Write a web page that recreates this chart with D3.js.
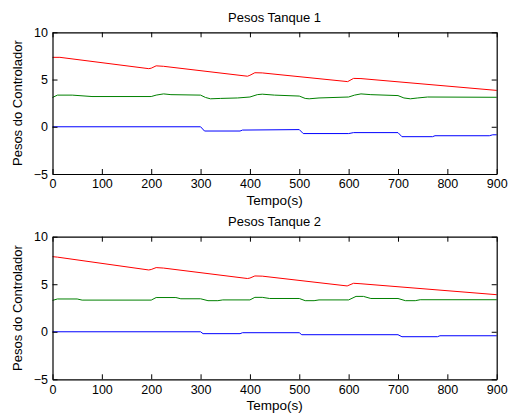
<!DOCTYPE html>
<html>
<head>
<meta charset="utf-8">
<script src="https://cdn.jsdelivr.net/npm/d3@7"></script>
<style>
  body { margin: 0; background: #fff; }
  text { font-family: Arial, "Liberation Sans", sans-serif; fill: #000; }
</style>
</head>
<body>
<svg id="chart" width="509" height="415"></svg>
<script>
// tick labels
const xTicks = [0, 100, 200, 300, 400, 500, 600, 700, 800, 900]
const yTicks = [-5, 0, 5, 10]
const titles = ["Pesos Tanque 1", "Pesos Tanque 2"]

// series: [tempo, peso]
const tank1Red = [[0, 7.35], [15, 7.35], [195, 6.15], [200, 6.2], [210, 6.45], [225, 6.4], [395, 5.35], [400, 5.45], [410, 5.72], [425, 5.7], [598, 4.78], [610, 5.12], [625, 5.1], [900, 3.85]]
const tank1Green = [[0, 3.1], [10, 3.35], [40, 3.35], [80, 3.2], [200, 3.2], [210, 3.35], [225, 3.48], [240, 3.4], [300, 3.35], [310, 3.1], [320, 2.96], [340, 3.0], [375, 3.05], [400, 3.15], [415, 3.4], [425, 3.45], [450, 3.35], [500, 3.25], [512, 3.0], [520, 2.96], [540, 3.05], [600, 3.15], [612, 3.35], [625, 3.48], [645, 3.4], [700, 3.3], [712, 3.05], [725, 2.96], [740, 3.05], [760, 3.15], [900, 3.12]]
const tank1Blue = [[0, 0], [300, 0], [308, -0.45], [380, -0.45], [385, -0.35], [500, -0.3], [508, -0.72], [600, -0.72], [610, -0.62], [700, -0.62], [708, -1.05], [770, -1.05], [775, -0.95], [885, -0.95], [892, -0.85], [900, -0.85]]

const tank2Red = [[0, 7.9], [10, 7.85], [195, 6.5], [200, 6.55], [210, 6.75], [225, 6.7], [395, 5.6], [400, 5.65], [410, 5.87], [425, 5.85], [597, 4.82], [610, 5.1], [625, 5.05], [900, 3.9]]
const tank2Green = [[0, 3.3], [10, 3.45], [50, 3.45], [60, 3.33], [200, 3.33], [210, 3.6], [250, 3.6], [260, 3.47], [300, 3.47], [315, 3.27], [335, 3.27], [345, 3.35], [400, 3.35], [410, 3.62], [425, 3.62], [440, 3.5], [500, 3.5], [512, 3.27], [530, 3.27], [540, 3.35], [600, 3.35], [615, 3.72], [630, 3.72], [645, 3.5], [700, 3.5], [715, 3.27], [735, 3.27], [745, 3.37], [900, 3.37]]
const tank2Blue = [[0, 0], [300, 0], [305, -0.2], [380, -0.2], [385, -0.1], [500, -0.1], [505, -0.31], [700, -0.31], [708, -0.52], [780, -0.52], [785, -0.42], [900, -0.42]]

const panels = [
  { title: titles[0], top: 32.3, bottom: 174, series: [tank1Red, tank1Green, tank1Blue] },
  { title: titles[1], top: 236.7, bottom: 379.3, series: [tank2Red, tank2Green, tank2Blue] }
]
const colors = ["#ff0000", "#008000", "#0000ff"]
const left = 52.5, right = 496.7

const svg = d3.select("#chart")

panels.forEach(p => {
  let x = d3.scaleLinear().domain([0, 900]).range([left, right])
  let y = d3.scaleLinear().domain([-5, 10]).range([p.bottom, p.top])
  let g = svg.append("g")

  // lines first, axes on top
  let line = d3.line().x(d => x(d[0])).y(d => y(d[1]))
  p.series.forEach((s, i) => {
    g.append("path")
      .datum(s)
      .attr("d", line)
      .attr("fill", "none")
      .attr("stroke", colors[i])
      .attr("stroke-width", 1)
  })

  // bottom axis, ticks pointing inward
  let bottom = g.append("g")
    .attr("transform", `translate(0,${p.bottom})`)
    .call(d3.axisBottom(x).tickValues(xTicks).tickSizeInner(-5).tickSizeOuter(0).tickPadding(9))
  // top axis, no labels
  g.append("g")
    .attr("transform", `translate(0,${p.top})`)
    .call(d3.axisTop(x).tickValues(xTicks).tickSizeInner(-5).tickSizeOuter(0).tickFormat(""))
  // left axis
  let leftAx = g.append("g")
    .attr("transform", `translate(${left},0)`)
    .call(d3.axisLeft(y).tickValues(yTicks).tickSizeInner(-5).tickSizeOuter(0).tickPadding(9))
  // right axis, no labels
  g.append("g")
    .attr("transform", `translate(${right},0)`)
    .call(d3.axisRight(y).tickValues(yTicks).tickSizeInner(-5).tickSizeOuter(0).tickFormat(""))

  g.selectAll(".domain").attr("stroke", "#000").attr("stroke-width", 1.2)
  g.selectAll(".tick line").attr("stroke", "#000")
  g.selectAll(".tick text")
    .style("font-family", "Arial, 'Liberation Sans', sans-serif")
    .style("font-size", "12.5px")
    .attr("fill", "#000")
  bottom.selectAll(".tick text").attr("dy", "0.71em").attr("y", 5.5)
  leftAx.selectAll(".tick text").attr("x", -4.5)

  // title
  g.append("text")
    .attr("x", (left + right) / 2)
    .attr("y", p.top - 10.5)
    .attr("text-anchor", "middle")
    .style("font-size", "13px")
    .text(p.title)

  // x label
  g.append("text")
    .attr("x", (left + right) / 2)
    .attr("y", p.bottom + 31)
    .attr("text-anchor", "middle")
    .style("font-size", "13.5px")
    .text("Tempo(s)")

  // y label
  g.append("text")
    .attr("transform", `translate(22,${(p.top + p.bottom) / 2}) rotate(-90)`)
    .attr("text-anchor", "middle")
    .style("font-size", "13px")
    .text("Pesos do Controlador")
})
</script>
</body>
</html>
